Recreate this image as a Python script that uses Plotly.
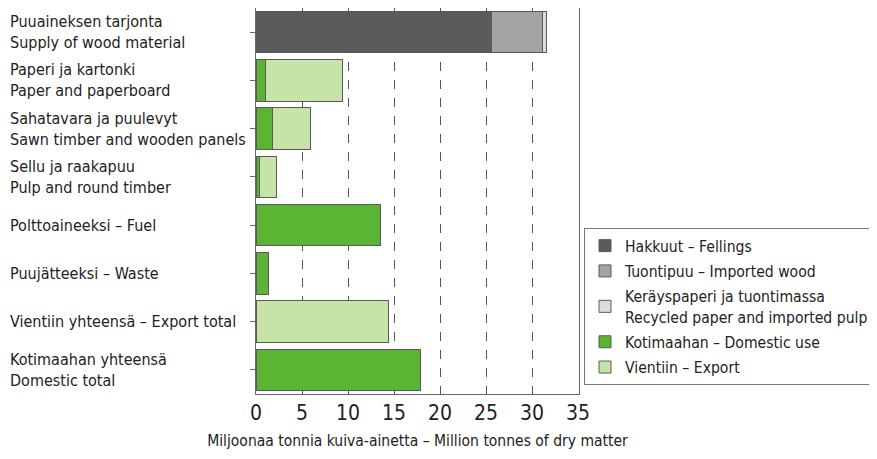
import plotly.graph_objects as go

categories = [
    "Puuaineksen tarjonta<br>Supply of wood material",
    "Paperi ja kartonki<br>Paper and paperboard",
    "Sahatavara ja puulevyt<br>Sawn timber and wooden panels",
    "Sellu ja raakapuu<br>Pulp and round timber",
    "Polttoaineeksi – Fuel",
    "Puujätteeksi – Waste",
    "Vientiin yhteensä – Export total",
    "Kotimaahan yhteensä<br>Domestic total",
]

series_names = [
    "Hakkuut – Fellings",
    "Tuontipuu – Imported wood",
    "Keräyspaperi ja tuontimassa<br>Recycled paper and imported pulp",
    "Kotimaahan – Domestic use",
    "Vientiin – Export",
]

fellings = [25.6, 0, 0, 0, 0, 0, 0, 0]
imported = [5.5, 0, 0, 0, 0, 0, 0, 0]
recycled = [0.5, 0, 0, 0, 0, 0, 0, 0]
domestic = [0, 1.05, 1.75, 0.35, 13.5, 1.4, 0, 17.85]
export = [0, 8.3, 4.15, 1.9, 0, 0, 14.4, 0]

x_ticks = [0, 5, 10, 15, 20, 25, 30, 35]
x_title = "Miljoonaa tonnia kuiva-ainetta – Million tonnes of dry matter"

colors = ["#5b5b5b", "#a3a3a3", "#dcdcdc", "#5bb433", "#c6e4a8"]

FONT = "DejaVu Sans Condensed, Liberation Sans Narrow, sans-serif"

# the page body has an 8px margin, so the figure is 16px smaller than the window
W, H = 861, 443
L, R, T, B = 248, 571, 0, 386

fig = go.Figure()
for i, (name, vals, col) in enumerate(zip(series_names, [fellings, imported, recycled, domestic, export], colors)):
    fig.add_trace(go.Bar(
        y=categories, x=[v if v > 0 else None for v in vals], name=name,
        legendgroup=str(i),
        orientation="h", marker=dict(color=col, line=dict(color="#5a5a5a", width=1)),
    ))

for c in categories:
    fig.add_annotation(
        x=(0 - L) / (R - L), xref="paper", y=c, yref="y",
        text=c, showarrow=False, xanchor="left", yanchor="middle", align="left",
        font=dict(family=FONT, size=16, color="#222"),
    )

fig.update_layout(
    width=W, height=H,
    margin=dict(l=L, r=W - R, t=T, b=H - B, pad=0, autoexpand=False),
    paper_bgcolor="white", plot_bgcolor="white",
    barmode="stack", bargap=0.135,
    font=dict(family=FONT, color="#222"),
    showlegend=True,
    legend=dict(
        xref="container", yref="container",
        x=576 / W, y=1 - 220 / H, xanchor="left", yanchor="top",
        bordercolor="#777", borderwidth=1, bgcolor="white",
        font=dict(family=FONT, size=15.6, color="#222"),
        traceorder="grouped", tracegroupgap=2, itemwidth=30,
    ),
    xaxis=dict(
        range=[0, 35.1], tickvals=x_ticks, ticktext=[str(t) for t in x_ticks],
        showgrid=True, gridcolor="#555", griddash="dash", gridwidth=1,
        showline=True, linecolor="#666", linewidth=1, mirror=True,
        ticks="", zeroline=False,
        tickfont=dict(family=FONT, size=21, color="#222"),
        title=dict(text=x_title, font=dict(family=FONT, size=15.5, color="#222"), standoff=10),
    ),
    yaxis=dict(
        autorange="reversed", showticklabels=False,
        ticks="outside", ticklen=5, tickcolor="#666",
        showline=True, linecolor="#666", linewidth=1, mirror=True,
        showgrid=False,
    ),
)

fig.write_html("out.html")
